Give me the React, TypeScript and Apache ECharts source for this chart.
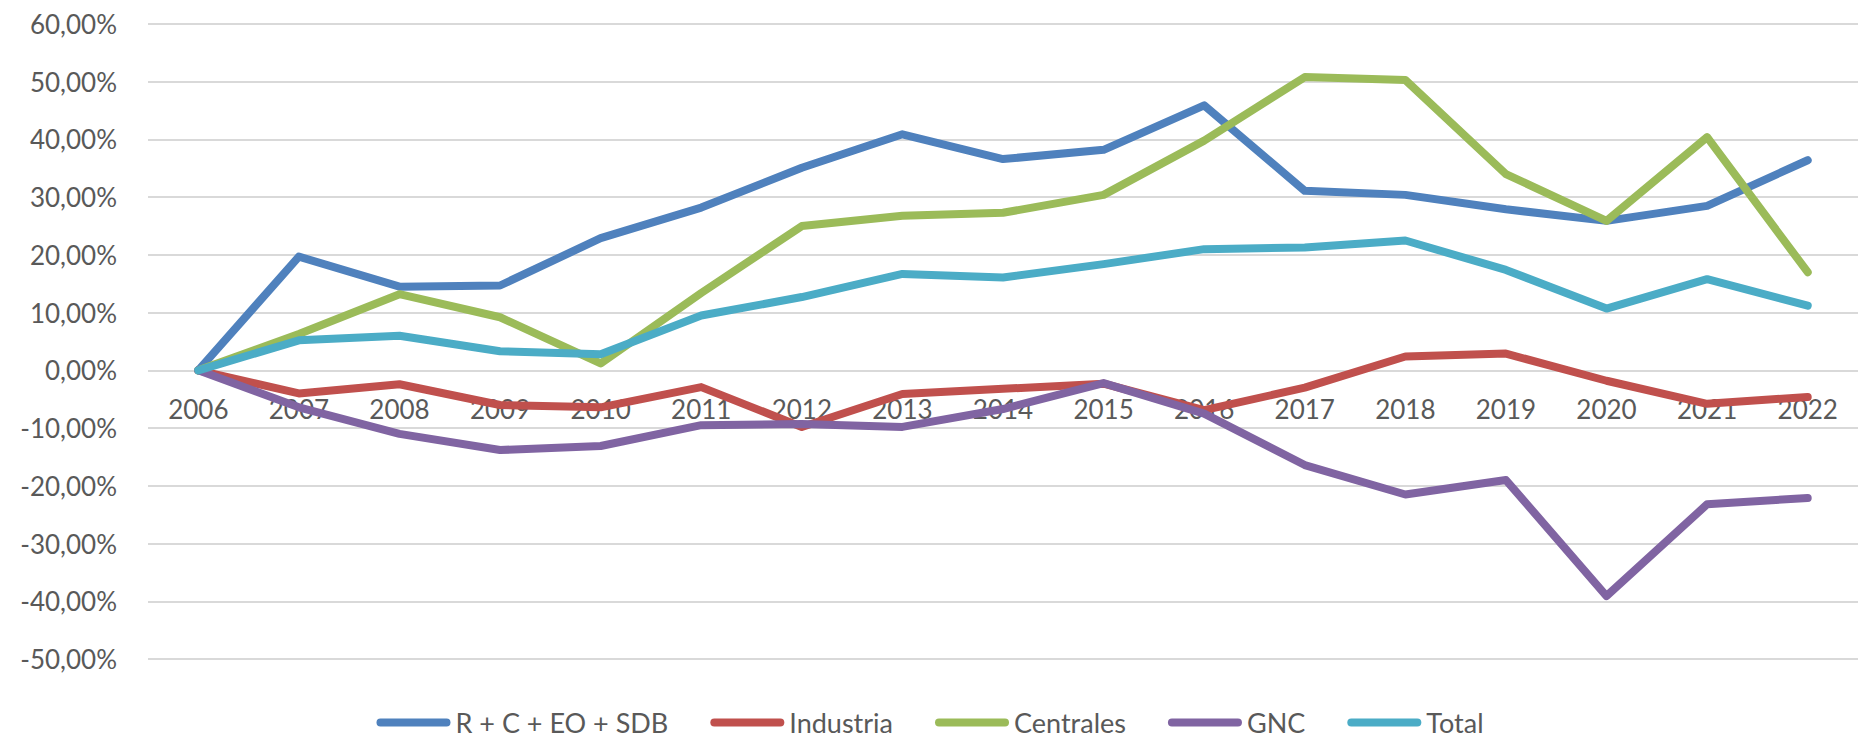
import React, { useEffect, useRef } from "react";
import * as echarts from "echarts";

const years = ["2006","2007","2008","2009","2010","2011","2012","2013","2014","2015","2016","2017","2018","2019","2020","2021","2022"];

const rcEoSdb = [0, 19.7, 14.5, 14.7, 22.9, 28.2, 35.1, 40.9, 36.6, 38.2, 45.9, 31.1, 30.4, 27.9, 25.9, 28.5, 36.4];
const industria = [0, -4.0, -2.4, -6.0, -6.4, -2.9, -9.8, -4.1, -3.2, -2.3, -6.9, -3.0, 2.4, 2.9, -1.8, -5.8, -4.6];
const centrales = [0, 6.3, 13.2, 9.2, 1.2, 13.4, 25.0, 26.8, 27.3, 30.4, 39.8, 50.8, 50.3, 34.0, 25.9, 40.4, 17.0];
const gnc = [0, -6.4, -11.0, -13.8, -13.1, -9.5, -9.3, -9.8, -6.7, -2.2, -7.5, -16.4, -21.5, -19.0, -39.1, -23.2, -22.1];
const total = [0, 5.2, 6.0, 3.3, 2.8, 9.5, 12.7, 16.7, 16.1, 18.4, 21.0, 21.3, 22.5, 17.4, 10.7, 15.8, 11.2];

const seriesNames = ["R + C + EO + SDB", "Industria", "Centrales", "GNC", "Total"];
const seriesColors = ["#4F81BD", "#C0504D", "#9BBB59", "#8064A2", "#4BACC6"];

const FONT = "Lato";
const TEXT_COLOR = "#595959";

const Y_MIN = -50;
const Y_MAX = 60;
const GRID_TOP = 24;
const GRID_BOTTOM = 79;
const CHART_H = 738;

export default function App() {
  const ref = useRef<HTMLDivElement>(null);
  useEffect(() => {
    if (!ref.current) return;
    const chart = echarts.init(ref.current, undefined, { renderer: "svg" });
    const datasets = [rcEoSdb, industria, centrales, gnc, total];
    const plotH = CHART_H - GRID_TOP - GRID_BOTTOM;
    // distance from the grid bottom up to the zero line
    const zeroOffset = (plotH * (0 - Y_MIN)) / (Y_MAX - Y_MIN);
    chart.setOption({
      animation: false,
      backgroundColor: "#ffffff",
      grid: { left: 148, right: 2, top: GRID_TOP, bottom: GRID_BOTTOM, containLabel: false },
      legend: {
        top: 708,
        left: "center",
        padding: 0,
        itemWidth: 74,
        itemHeight: 8,
        itemGap: 42,
        icon: "path://M4,0 H70 A4,4 0 0 1 70,8 H4 A4,4 0 0 1 4,0 Z",
        textStyle: { fontFamily: FONT, fontSize: 27, lineHeight: 29, color: TEXT_COLOR },
        data: seriesNames,
      },
      xAxis: {
        type: "category",
        data: years,
        boundaryGap: true,
        position: "bottom",
        offset: -zeroOffset,
        axisLine: { show: false, onZero: false },
        axisTick: { show: false },
        axisLabel: { fontFamily: FONT, fontSize: 26, color: TEXT_COLOR, margin: 26 },
        splitLine: { show: false },
      },
      yAxis: {
        type: "value",
        min: Y_MIN,
        max: Y_MAX,
        interval: 10,
        axisLine: { show: false },
        axisTick: { show: false },
        axisLabel: {
          fontFamily: FONT,
          fontSize: 26,
          color: TEXT_COLOR,
          margin: 31,
          formatter: (v: number) => v.toFixed(2).replace(".", ",") + "%",
        },
        splitLine: { lineStyle: { color: "#D9D9D9", width: 2 } },
      },
      series: datasets.map((d, i) => ({
        name: seriesNames[i],
        type: "line",
        data: d,
        symbol: "none",
        color: seriesColors[i],
        lineStyle: { width: 8, color: seriesColors[i], cap: "round", join: "round" },
        emphasis: { disabled: true },
      })),
    });
    return () => chart.dispose();
  }, []);
  return (
    <div
      ref={ref}
      style={{ position: "fixed", left: 0, top: 0, width: 1860, height: 738, background: "#fff" }}
    />
  );
}
